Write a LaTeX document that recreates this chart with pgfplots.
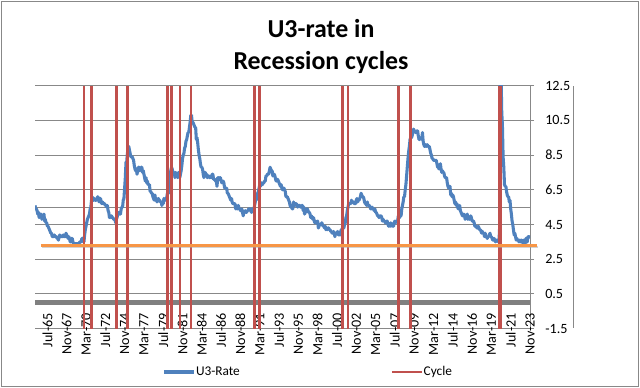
\documentclass[border=0pt]{standalone}
\usepackage{fontspec}
\setmainfont{Carlito}
\usepackage{pgfplots}
\usepackage{pgfplotstable}
\pgfplotsset{compat=1.18}
\definecolor{ublue}{HTML}{4F81BD}
\definecolor{cred}{HTML}{C0504D}
\definecolor{corange}{HTML}{F79646}
\definecolor{gridgray}{HTML}{888888}
\definecolor{zerogray}{HTML}{808080}

% monthly U3 rate, Jan 1964 (index 0) to Nov 2023 (index 718)
\pgfplotstableread[row sep=\\]{
u\\
5.6\\ 5.4\\ 5.4\\ 5.3\\ 5.1\\ 5.2\\ 4.9\\ 5.0\\ 5.1\\ 5.1\\ 4.8\\ 5.0\\
4.9\\ 5.1\\ 4.7\\ 4.8\\ 4.6\\ 4.6\\ 4.4\\ 4.4\\ 4.3\\ 4.2\\ 4.1\\ 4.0\\
4.0\\ 3.8\\ 3.8\\ 3.8\\ 3.9\\ 3.8\\ 3.8\\ 3.8\\ 3.7\\ 3.7\\ 3.6\\ 3.8\\
3.9\\ 3.8\\ 3.8\\ 3.8\\ 3.8\\ 3.9\\ 3.8\\ 3.8\\ 3.8\\ 4.0\\ 3.9\\ 3.8\\
3.7\\ 3.8\\ 3.7\\ 3.5\\ 3.5\\ 3.7\\ 3.7\\ 3.5\\ 3.4\\ 3.4\\ 3.4\\ 3.4\\
3.4\\ 3.4\\ 3.4\\ 3.4\\ 3.4\\ 3.5\\ 3.5\\ 3.5\\ 3.7\\ 3.7\\ 3.5\\ 3.5\\
3.9\\ 4.2\\ 4.4\\ 4.6\\ 4.8\\ 4.9\\ 5.0\\ 5.1\\ 5.4\\ 5.5\\ 5.9\\ 6.1\\
5.9\\ 5.9\\ 6.0\\ 5.9\\ 5.9\\ 5.9\\ 6.0\\ 6.1\\ 6.0\\ 5.8\\ 6.0\\ 6.0\\
5.8\\ 5.7\\ 5.8\\ 5.7\\ 5.7\\ 5.7\\ 5.6\\ 5.6\\ 5.5\\ 5.6\\ 5.3\\ 5.2\\
4.9\\ 5.0\\ 4.9\\ 5.0\\ 4.9\\ 4.9\\ 4.8\\ 4.8\\ 4.8\\ 4.6\\ 4.8\\ 4.9\\
5.1\\ 5.2\\ 5.1\\ 5.1\\ 5.1\\ 5.4\\ 5.5\\ 5.5\\ 5.9\\ 6.0\\ 6.6\\ 7.2\\
8.1\\ 8.1\\ 8.6\\ 8.8\\ 9.0\\ 8.8\\ 8.6\\ 8.4\\ 8.4\\ 8.4\\ 8.3\\ 8.2\\
7.9\\ 7.7\\ 7.6\\ 7.7\\ 7.4\\ 7.6\\ 7.8\\ 7.8\\ 7.6\\ 7.7\\ 7.8\\ 7.8\\
7.5\\ 7.6\\ 7.4\\ 7.2\\ 7.0\\ 7.2\\ 6.9\\ 7.0\\ 6.8\\ 6.8\\ 6.8\\ 6.4\\
6.4\\ 6.3\\ 6.3\\ 6.1\\ 6.0\\ 5.9\\ 6.2\\ 5.9\\ 6.0\\ 5.8\\ 5.9\\ 6.0\\
5.9\\ 5.9\\ 5.8\\ 5.8\\ 5.6\\ 5.7\\ 5.7\\ 6.0\\ 5.9\\ 6.0\\ 5.9\\ 6.0\\
6.3\\ 6.3\\ 6.3\\ 6.9\\ 7.5\\ 7.6\\ 7.8\\ 7.7\\ 7.5\\ 7.5\\ 7.5\\ 7.2\\
7.5\\ 7.4\\ 7.4\\ 7.2\\ 7.5\\ 7.5\\ 7.2\\ 7.4\\ 7.6\\ 7.9\\ 8.3\\ 8.5\\
8.6\\ 8.9\\ 9.0\\ 9.3\\ 9.4\\ 9.6\\ 9.8\\ 9.8\\ 10.1\\ 10.4\\ 10.8\\ 10.8\\
10.4\\ 10.4\\ 10.3\\ 10.2\\ 10.1\\ 10.1\\ 9.4\\ 9.5\\ 9.2\\ 8.8\\ 8.5\\ 8.3\\
8.0\\ 7.8\\ 7.8\\ 7.7\\ 7.4\\ 7.2\\ 7.5\\ 7.5\\ 7.3\\ 7.4\\ 7.2\\ 7.3\\
7.3\\ 7.2\\ 7.2\\ 7.3\\ 7.2\\ 7.4\\ 7.4\\ 7.1\\ 7.1\\ 7.1\\ 7.0\\ 7.0\\
6.7\\ 7.2\\ 7.2\\ 7.1\\ 7.2\\ 7.2\\ 7.0\\ 6.9\\ 7.0\\ 7.0\\ 6.9\\ 6.6\\
6.6\\ 6.6\\ 6.6\\ 6.3\\ 6.3\\ 6.2\\ 6.1\\ 6.0\\ 5.9\\ 6.0\\ 5.8\\ 5.7\\
5.7\\ 5.7\\ 5.7\\ 5.4\\ 5.6\\ 5.4\\ 5.4\\ 5.6\\ 5.4\\ 5.4\\ 5.3\\ 5.3\\
5.4\\ 5.2\\ 5.0\\ 5.2\\ 5.2\\ 5.3\\ 5.2\\ 5.2\\ 5.3\\ 5.3\\ 5.4\\ 5.4\\
5.4\\ 5.3\\ 5.2\\ 5.4\\ 5.4\\ 5.2\\ 5.5\\ 5.7\\ 5.9\\ 5.9\\ 6.2\\ 6.3\\
6.4\\ 6.6\\ 6.8\\ 6.7\\ 6.9\\ 6.9\\ 6.8\\ 6.9\\ 6.9\\ 7.0\\ 7.0\\ 7.3\\
7.3\\ 7.4\\ 7.4\\ 7.4\\ 7.6\\ 7.8\\ 7.7\\ 7.6\\ 7.6\\ 7.3\\ 7.4\\ 7.4\\
7.3\\ 7.1\\ 7.0\\ 7.1\\ 7.1\\ 7.0\\ 6.9\\ 6.8\\ 6.7\\ 6.8\\ 6.6\\ 6.5\\
6.6\\ 6.6\\ 6.5\\ 6.4\\ 6.1\\ 6.1\\ 6.1\\ 6.0\\ 5.9\\ 5.8\\ 5.6\\ 5.5\\
5.6\\ 5.4\\ 5.4\\ 5.8\\ 5.6\\ 5.6\\ 5.7\\ 5.7\\ 5.6\\ 5.5\\ 5.6\\ 5.6\\
5.6\\ 5.5\\ 5.5\\ 5.6\\ 5.6\\ 5.3\\ 5.5\\ 5.1\\ 5.2\\ 5.2\\ 5.4\\ 5.4\\
5.3\\ 5.2\\ 5.2\\ 5.1\\ 4.9\\ 5.0\\ 4.9\\ 4.8\\ 4.9\\ 4.7\\ 4.6\\ 4.7\\
4.6\\ 4.6\\ 4.7\\ 4.3\\ 4.4\\ 4.5\\ 4.5\\ 4.5\\ 4.6\\ 4.5\\ 4.4\\ 4.4\\
4.3\\ 4.4\\ 4.2\\ 4.3\\ 4.2\\ 4.3\\ 4.3\\ 4.2\\ 4.2\\ 4.1\\ 4.1\\ 4.0\\
4.0\\ 4.1\\ 4.0\\ 3.8\\ 4.0\\ 4.0\\ 4.0\\ 4.1\\ 3.9\\ 3.9\\ 3.9\\ 3.9\\
4.2\\ 4.2\\ 4.3\\ 4.4\\ 4.3\\ 4.5\\ 4.6\\ 4.9\\ 5.0\\ 5.3\\ 5.5\\ 5.7\\
5.7\\ 5.7\\ 5.7\\ 5.9\\ 5.8\\ 5.8\\ 5.8\\ 5.7\\ 5.7\\ 5.7\\ 5.9\\ 6.0\\
5.8\\ 5.9\\ 5.9\\ 6.0\\ 6.1\\ 6.3\\ 6.2\\ 6.1\\ 6.1\\ 6.0\\ 5.8\\ 5.7\\
5.7\\ 5.6\\ 5.8\\ 5.6\\ 5.6\\ 5.6\\ 5.5\\ 5.4\\ 5.4\\ 5.5\\ 5.4\\ 5.4\\
5.3\\ 5.4\\ 5.2\\ 5.2\\ 5.1\\ 5.0\\ 5.0\\ 4.9\\ 5.0\\ 5.0\\ 5.0\\ 4.9\\
4.7\\ 4.8\\ 4.7\\ 4.7\\ 4.6\\ 4.6\\ 4.7\\ 4.7\\ 4.5\\ 4.4\\ 4.5\\ 4.4\\
4.6\\ 4.5\\ 4.4\\ 4.5\\ 4.4\\ 4.6\\ 4.7\\ 4.6\\ 4.7\\ 4.7\\ 4.7\\ 5.0\\
5.0\\ 4.9\\ 5.1\\ 5.0\\ 5.4\\ 5.6\\ 5.8\\ 6.1\\ 6.1\\ 6.5\\ 6.8\\ 7.3\\
7.8\\ 8.3\\ 8.7\\ 9.0\\ 9.4\\ 9.5\\ 9.5\\ 9.6\\ 9.8\\ 10.0\\ 9.9\\ 9.9\\
9.8\\ 9.8\\ 9.9\\ 9.9\\ 9.6\\ 9.4\\ 9.4\\ 9.5\\ 9.5\\ 9.4\\ 9.8\\ 9.3\\
9.1\\ 9.0\\ 9.0\\ 9.1\\ 9.0\\ 9.1\\ 9.0\\ 9.0\\ 9.0\\ 8.8\\ 8.6\\ 8.5\\
8.3\\ 8.3\\ 8.2\\ 8.2\\ 8.2\\ 8.2\\ 8.2\\ 8.0\\ 7.8\\ 7.8\\ 7.7\\ 7.9\\
8.0\\ 7.7\\ 7.5\\ 7.6\\ 7.5\\ 7.5\\ 7.3\\ 7.2\\ 7.2\\ 7.2\\ 6.9\\ 6.7\\
6.6\\ 6.7\\ 6.7\\ 6.2\\ 6.3\\ 6.1\\ 6.2\\ 6.1\\ 5.9\\ 5.7\\ 5.8\\ 5.6\\
5.7\\ 5.5\\ 5.4\\ 5.4\\ 5.6\\ 5.3\\ 5.2\\ 5.1\\ 5.0\\ 5.0\\ 5.1\\ 5.0\\
4.8\\ 4.9\\ 5.0\\ 5.1\\ 4.8\\ 4.9\\ 4.8\\ 4.9\\ 5.0\\ 4.9\\ 4.7\\ 4.7\\
4.7\\ 4.6\\ 4.4\\ 4.4\\ 4.4\\ 4.3\\ 4.3\\ 4.4\\ 4.3\\ 4.2\\ 4.2\\ 4.1\\
4.0\\ 4.1\\ 4.0\\ 4.0\\ 3.8\\ 4.0\\ 3.8\\ 3.8\\ 3.7\\ 3.8\\ 3.8\\ 3.9\\
4.0\\ 3.8\\ 3.8\\ 3.7\\ 3.6\\ 3.6\\ 3.7\\ 3.6\\ 3.5\\ 3.6\\ 3.6\\ 3.6\\
3.5\\ 3.5\\ 4.4\\ 14.8\\ 13.2\\ 11.0\\ 10.2\\ 8.4\\ 7.8\\ 6.8\\ 6.7\\ 6.7\\
6.4\\ 6.2\\ 6.1\\ 6.1\\ 5.8\\ 5.9\\ 5.4\\ 5.1\\ 4.7\\ 4.5\\ 4.2\\ 3.9\\
4.0\\ 3.8\\ 3.6\\ 3.7\\ 3.6\\ 3.6\\ 3.5\\ 3.6\\ 3.5\\ 3.6\\ 3.6\\ 3.5\\
3.4\\ 3.6\\ 3.5\\ 3.4\\ 3.7\\ 3.6\\ 3.5\\ 3.8\\ 3.8\\ 3.8\\ 3.7\\
}\uthree

% recession start/end months (index from Jan 1964)
\pgfplotstableread{
x y
71 -1.5
71 12.5
71 nan
82 -1.5
82 12.5
82 nan
118 -1.5
118 12.5
118 nan
134 -1.5
134 12.5
134 nan
192 -1.5
192 12.5
192 nan
198 -1.5
198 12.5
198 nan
210 -1.5
210 12.5
210 nan
226 -1.5
226 12.5
226 nan
318 -1.5
318 12.5
318 nan
326 -1.5
326 12.5
326 nan
446 -1.5
446 12.5
446 nan
454 -1.5
454 12.5
454 nan
527 -1.5
527 12.5
527 nan
545 -1.5
545 12.5
545 nan
673 -1.5
673 12.5
673 nan
675 -1.5
675 12.5
}\cycles

\begin{document}
\begin{tikzpicture}
\useasboundingbox (0,0) rectangle (480pt,291pt);
\fill[white] (0,0) rectangle (480pt,291pt);
\draw[gridgray, line width=0.75pt] (1pt,1pt) rectangle (478.7pt,290.2pt);

\node[anchor=base, font=\fontsize{19.4}{23}\selectfont\bfseries] at (240.75pt,263pt) {U3-rate in};
\node[anchor=base, font=\fontsize{19.4}{23}\selectfont\bfseries] at (240.75pt,238.5pt) {Recession cycles};

\begin{axis}[
  at={(26.25pt,44.5pt)}, anchor=south west,
  scale only axis, width=371.25pt, height=182.25pt,
  xmin=0, xmax=718, ymin=-1.5, ymax=12.5,
  axis x line*=bottom, axis y line*=right,
  axis line style={gridgray, line width=0.75pt},
  ytick={-1.5,0.5,2.5,4.5,6.5,8.5,10.5,12.5},
  yticklabels={-1.5,0.5,2.5,4.5,6.5,8.5,10.5,12.5},
  ymajorgrids, grid style={gridgray, line width=0.75pt},
  tick align=outside, major tick length=3pt,
  y tick style={gridgray, line width=0.75pt},
  x tick style={draw=none},
  xtick={18,46,...,718},
  xticklabels={Jul-65,Nov-67,Mar-70,Jul-72,Nov-74,Mar-77,Jul-79,Nov-81,Mar-84,Jul-86,Nov-88,Mar-91,Jul-93,Nov-95,Mar-98,Jul-00,Nov-02,Mar-05,Jul-07,Nov-09,Mar-12,Jul-14,Nov-16,Mar-19,Jul-21,Nov-23},
  tick label style={font=\fontsize{10.6}{12}\selectfont},
  xticklabel style={yshift=14.8pt, rotate=90, anchor=east, inner sep=0pt},
  yticklabel style={xshift=8.25pt, anchor=west, inner sep=0pt},
  legend columns=2,
  legend style={at={(0.2566,-0.1783)}, anchor=west, draw=none, fill=none,
    font=\fontsize{10}{12}\selectfont, inner sep=0pt,
    nodes={inner sep=0pt},
    /tikz/every odd column/.append style={column sep=0pt},
    /tikz/every even column/.append style={column sep=113pt}},
  legend image code/.code={\draw[#1] (0pt,0pt) -- (23pt,0pt);},
]
\addplot[gridgray, line width=0.75pt, forget plot] coordinates {(0,5.5) (718,5.5)};
\addplot[zerogray, line width=3.5pt, forget plot] coordinates {(0,0) (718,0)};
\addplot[ublue, line width=2.3pt, line join=round] table[x expr=\coordindex, y=u] {\uthree};
\addlegendentry{U3-Rate}
\addplot[cred, line width=1.9pt, unbounded coords=jump] table[x=x, y=y] {\cycles};
\addlegendentry{Cycle}
\end{axis}

\begin{axis}[
  at={(26.25pt,44.5pt)}, anchor=south west,
  scale only axis, width=371.25pt, height=182.25pt,
  xmin=0, xmax=718, ymin=-1.5, ymax=12.5,
  hide axis, clip=false,
]
\addplot[black!35, opacity=0.5, line width=2pt] coordinates {(9.5,3.2) (729,3.2)};
\addplot[corange, line width=2.25pt] coordinates {(8.7,3.3) (728.2,3.3)};
\end{axis}

\draw[gridgray, line width=0.75pt] (430pt,45pt) -- (430pt,226.5pt);
\end{tikzpicture}
\end{document}
